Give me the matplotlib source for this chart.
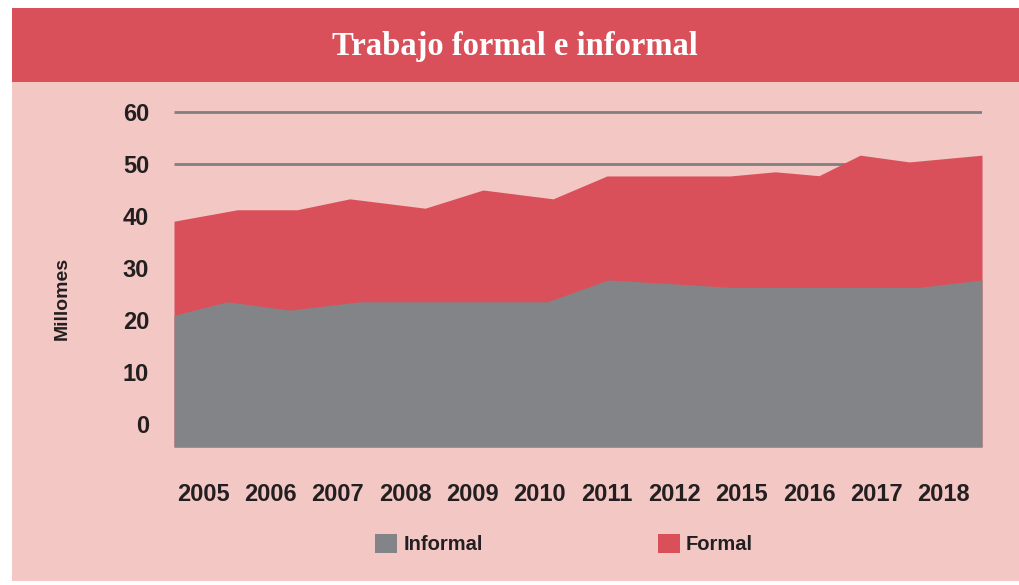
import matplotlib
matplotlib.use("Agg")
import matplotlib.pyplot as plt
from matplotlib.patches import Rectangle, Patch

# colours
bg_color     = "#F2C7C4"
red_color    = "#D9505B"
gray_color   = "#838488"
grid_color   = "#808080"
text_color   = "#231F20"
sans_font    = ["Liberation Sans Narrow", "Liberation Sans", "DejaVu Sans"]

# data (x in category units, 0..12 across the 12 year bands)
year_labels  = ["2005", "2006", "2007", "2008", "2009", "2010",
                "2011", "2012", "2015", "2016", "2017", "2018"]
total_x      = [0.0, 0.94, 1.83, 2.61, 3.73, 4.59, 5.63, 6.43, 8.26, 8.93, 9.58, 10.19, 10.92, 12.0]
total_vals   = [39.0, 41.2, 41.2, 43.3, 41.5, 45.0, 43.3, 47.7, 47.7, 48.5, 47.75, 51.7, 50.4, 51.7]
informal_x   = [0.0, 0.79, 1.72, 2.76, 5.54, 6.45, 7.22, 8.30, 11.05, 12.0]
informal_vals = [20.9, 23.5, 21.9, 23.5, 23.5, 27.7, 27.1, 26.25, 26.25, 27.7]
y_ticks      = [0, 10, 20, 30, 40, 50, 60]
grid_lines   = [50, 60]

W, H = 1019, 585
fig = plt.figure(figsize=(W/100, H/100), dpi=100, facecolor="white")

# background panels
fig.patches.append(Rectangle((12/W, 1-581/H), 1-12/W, (581-82)/H, transform=fig.transFigure,
                             facecolor=bg_color, edgecolor="none", zorder=-5))
fig.patches.append(Rectangle((12/W, 1-82/H), 1-12/W, (82-8)/H, transform=fig.transFigure,
                             facecolor=red_color, edgecolor="none", zorder=-5))
fig.text(515/W, 1-47/H, "Trabajo formal e informal", color="white", fontsize=23.5,
         fontweight="bold", family=["Liberation Serif", "DejaVu Serif"], ha="center", va="center")

ax = fig.add_axes([174/W, 1-447/H, (982-174)/W, (447-100)/H])
ax.set_zorder(2)
ax.set_facecolor("none")
ybot = (424-447)/5.2
ytop = (424-100)/5.2
ax.set_xlim(0, 12)
ax.set_ylim(ybot, ytop)

ax.hlines(grid_lines, 0, 12, color=grid_color, lw=2, zorder=1)
ax.fill_between(total_x, ybot, total_vals, color=red_color, lw=0, zorder=2)
ax.fill_between(informal_x, ybot, informal_vals, color=gray_color, lw=0, zorder=3)

for s in ax.spines.values():
    s.set_visible(False)
ax.set_yticks(y_ticks)
ax.set_yticklabels([str(t) for t in y_ticks], family=sans_font, fontweight="bold",
                   fontsize=17, color=text_color)
ax.set_xticks([k + 0.43 for k in range(len(year_labels))])
ax.set_xticklabels(year_labels, family=sans_font, fontweight="bold",
                   fontsize=17, color=text_color)
ax.tick_params(axis="y", length=0, pad=18)
ax.tick_params(axis="x", length=0, pad=26)

fig.text(62/W, 1-298/H, "Millomes", rotation=90, ha="center", va="center",
         family=sans_font, fontweight="bold", fontsize=14, color=text_color)

handles = [Patch(facecolor=gray_color, edgecolor="none"), Patch(facecolor=red_color, edgecolor="none")]
fig.legend(handles, ["Informal", "Formal"], loc="center", bbox_to_anchor=(564/W, 1-544/H),
           ncol=2, frameon=False, handlelength=1.1, handleheight=1.1, handletextpad=0.3,
           columnspacing=8.7, prop={"family": sans_font, "weight": "bold", "size": 14.5},
           labelcolor=text_color)

fig.savefig("out.png", dpi=100, facecolor="white")
